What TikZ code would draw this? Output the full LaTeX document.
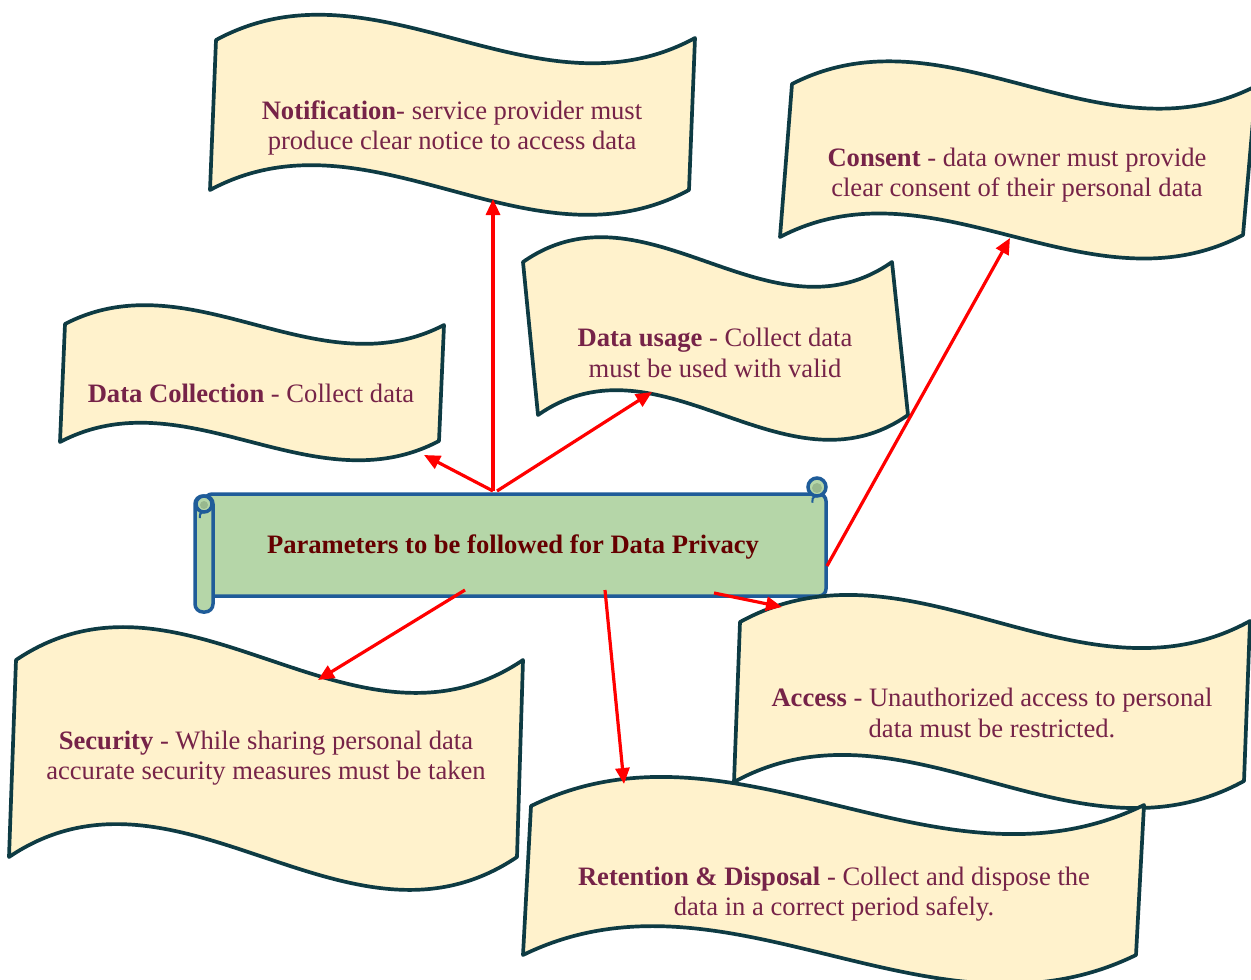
\documentclass[tikz,border=0pt]{standalone}
\usepackage{fontspec}
\setmainfont{Liberation Serif}
\usetikzlibrary{calc,arrows.meta}

\definecolor{bannerfill}{HTML}{FFF2CC}
\definecolor{bannerline}{HTML}{0E3B43}
\definecolor{textmaroon}{HTML}{762348}
\definecolor{titlered}{HTML}{650000}
\definecolor{scrollfill}{HTML}{B5D6A8}
\definecolor{scrolldark}{HTML}{98B88E}
\definecolor{scrollline}{HTML}{1F5C99}
\definecolor{linkred}{HTML}{FF0000}

\tikzset{
  banner/.style={fill=bannerfill, draw=bannerline, line width=3.7pt, line join=round},
  bannertext/.style={text=textmaroon, align=center, inner sep=0pt,
                     font=\fontsize{26.6}{30.5}\selectfont},
  scrollpart/.style={fill=scrollfill, draw=scrollline, line width=3.5pt},
  link/.style={draw=linkred, line width=3.2pt, -{Triangle[length=16pt,width=14pt]}},
}

% wave-shaped banner: top-left, top-right, bottom-right, bottom-left, bend
\newcommand\wavebanner[5]{%
  \filldraw[banner] (#1)
    .. controls ($(#1)!1/3!(#2)+(0,-#5)$) and ($(#1)!2/3!(#2)+(0,#5)$) .. (#2)
    -- (#3)
    .. controls ($(#4)!2/3!(#3)+(0,#5)$) and ($(#4)!1/3!(#3)+(0,-#5)$) .. (#4)
    -- cycle;}

\begin{document}
\begin{tikzpicture}[x=1pt,y=-1pt]
\useasboundingbox (0,0) rectangle (1251,980);
\clip (0,0) rectangle (1251,980);

% central scroll
\draw[scrollpart, rounded corners=7pt] (205,494) rectangle (826,596);
\draw[scrollpart] (817,487) circle (9);
\fill[scrolldark] (817,488) circle (5);
\draw[scrollline, line width=2pt] (817,496) arc (-90:-200:5);
\draw[scrollpart, rounded corners=8pt] (195,496) rectangle (213,612);
\draw[scrollpart] (204,504) circle (8);
\fill[scrolldark] (204,505) circle (4);
\draw[scrollline, line width=2pt] (204,512) arc (-90:-200:4.5);
\node[text=titlered, font=\bfseries\fontsize{26.6}{30}\selectfont] (main) at (513,547)
  {Parameters to be followed for Data Privacy};

% banners
\wavebanner{216,40}{695,38}{689,190}{210,190}{86}
\node[bannertext] (notif) at (452,128)
  {\textbf{Notification}- service provider must\\produce clear notice to access data};

\wavebanner{65,324}{444,325}{439,441}{60,442}{66}
\node[bannertext] (collect) at (251,393) {\textbf{Data Collection} - Collect data};

\wavebanner{523,262}{892,262}{908,415}{538,415}{86}
\node[bannertext] (usage) at (715,353)
  {\textbf{Data usage} - Collect data\\must be used with valid};

\wavebanner{792,84}{1256,86}{1243,235}{780,237}{80}
\node[bannertext] (consent) at (1017,175)
  {\textbf{Consent} - data owner must provide\\clear consent of their personal data};

\wavebanner{16,660}{523,660}{517,857}{9,857}{114}
\node[bannertext] (security) at (266,758)
  {\textbf{Security} - While sharing personal data\\accurate security measures must be taken};

\wavebanner{740,622}{1250,621}{1244,781}{734,782}{93}
\node[bannertext] (access) at (992,713)
  {\textbf{Access} - Unauthorized access to personal\\data must be restricted.};

\wavebanner{531,806}{1144,805}{1136,955}{523,955}{100}
\node[bannertext] (retention) at (834,894)
  {\textbf{Retention \& Disposal} - Collect and dispose the\\data in a correct period safely.};

% connector end points
\coordinate (topA) at (493,491);
\coordinate (topB) at (497,491);
\coordinate (notifEnd) at (493,199);
\coordinate (collectEnd) at (424,455);
\coordinate (usageEnd) at (652,392);
\coordinate (sideC) at (827,566);
\coordinate (consentEnd) at (1010,238);
\coordinate (botS) at (465,590);
\coordinate (securityEnd) at (318,680);
\coordinate (botR) at (605,590);
\coordinate (retentionEnd) at (624,784);
\coordinate (botA) at (714,593);
\coordinate (accessEnd) at (782,607);

% connectors
\draw[link] (topA) -- (notifEnd);
\draw[link] (topA) -- (collectEnd);
\draw[link] (topB) -- (usageEnd);
\draw[link] (sideC) -- (consentEnd);
\draw[link] (botS) -- (securityEnd);
\draw[link] (botR) -- (retentionEnd);
\draw[link] (botA) -- (accessEnd);
\end{tikzpicture}
\end{document}
